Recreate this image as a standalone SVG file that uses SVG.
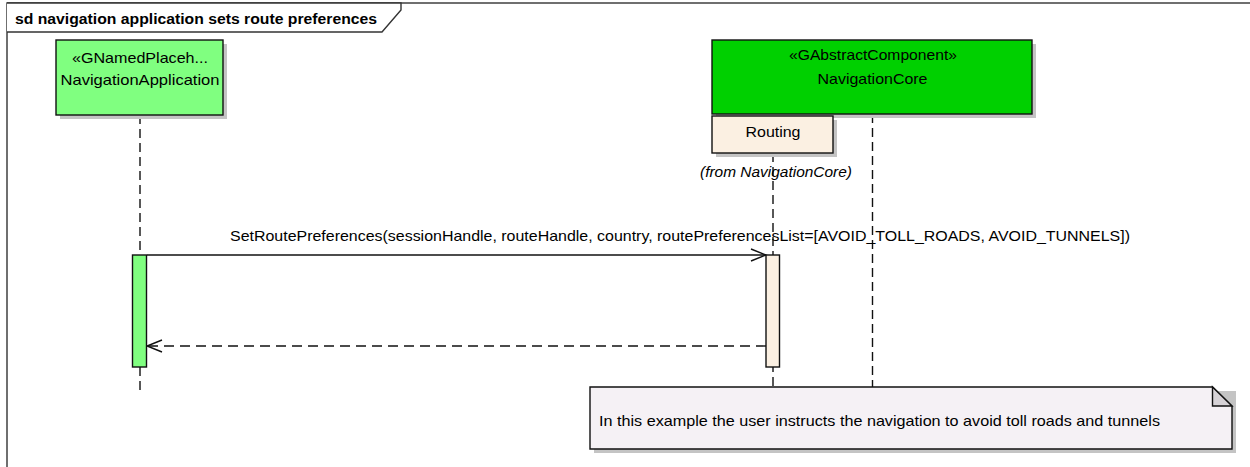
<svg xmlns="http://www.w3.org/2000/svg" width="1250" height="467" viewBox="0 0 1250 467">
<style>
text{font-family:"Liberation Sans",Arial,sans-serif;fill:#000}
.lbl{font-size:14.5px;text-anchor:middle}
.box{stroke:#111;stroke-width:1.4}
.shadow{fill:#c4c4c4}
.life{stroke:#111;stroke-width:1.4;stroke-dasharray:9 5;fill:none}
.msg{stroke:#111;stroke-width:1.4;fill:none}
</style>
<defs>
<marker id="open" markerWidth="18" markerHeight="16" refX="16" refY="8" orient="auto" markerUnits="userSpaceOnUse">
<path d="M1,2 L16,8 L1,14" fill="none" stroke="#111" stroke-width="1.4"/>
</marker>
</defs>
<rect width="1250" height="467" fill="#fff"/>
<g id="frame">
<rect x="7" y="3" width="1250" height="470" fill="none" stroke="#333" stroke-width="1.4"/>
<path d="M7,3 L401,3 L401,10 L382,32 L7,32" fill="#fff" stroke="#333" stroke-width="1.4"/>
<text x="15" y="24" font-size="14.5" font-weight="bold" textLength="362" lengthAdjust="spacingAndGlyphs">sd navigation application sets route preferences</text>
</g>
<g id="connectors">
<line class="life" x1="140" y1="115" x2="140" y2="392"/>
<line class="life" x1="773" y1="153" x2="773" y2="387"/>
<line class="life" x1="872.5" y1="114" x2="872.5" y2="387"/>
<line class="msg" x1="147" y1="255" x2="766" y2="255" marker-end="url(#open)"/>
<text x="230" y="241" font-size="14.5" textLength="900" lengthAdjust="spacingAndGlyphs">SetRoutePreferences(sessionHandle, routeHandle, country, routePreferencesList=[AVOID_TOLL_ROADS, AVOID_TUNNELS])</text>
<line class="msg" x1="766" y1="346" x2="147" y2="346" stroke-dasharray="10 6" marker-end="url(#open)"/>
</g>
<g id="NavigationApplication">
<rect class="shadow" x="60" y="44" width="167" height="75"/>
<rect class="box" x="56" y="40" width="167" height="75" fill="#80ff80"/>
<text class="lbl" x="140" y="63" textLength="136" lengthAdjust="spacingAndGlyphs">«GNamedPlaceh...</text>
<text class="lbl" x="140" y="85" textLength="159" lengthAdjust="spacingAndGlyphs">NavigationApplication</text>
</g>
<g id="NavigationCore">
<rect class="shadow" x="716" y="44" width="320" height="74"/>
<rect class="box" x="712" y="40" width="320" height="74" fill="#00d000"/>
<text class="lbl" x="873" y="60" textLength="168" lengthAdjust="spacingAndGlyphs">«GAbstractComponent»</text>
<text class="lbl" x="872.5" y="84" textLength="110" lengthAdjust="spacingAndGlyphs">NavigationCore</text>
</g>
<g id="Routing">
<rect class="shadow" x="716" y="120" width="121" height="37"/>
<rect class="box" x="712" y="116" width="121" height="37" fill="#fbf0e2"/>
<text class="lbl" x="773" y="137" textLength="55" lengthAdjust="spacingAndGlyphs">Routing</text>
<text class="lbl" x="776" y="177" font-style="italic" textLength="152" lengthAdjust="spacingAndGlyphs">(from NavigationCore)</text>
</g>
<g id="activation-app">
<rect class="box" x="132.5" y="255" width="14" height="112" fill="#80ff80"/>
</g>
<g id="activation-routing">
<rect class="box" x="766" y="255" width="13.5" height="112" fill="#fbf0e2"/>
</g>
<g id="note">
<path class="shadow" d="M594,391 L1236,391 L1236,453 L594,453 Z"/>
<path class="box" d="M590,387 L1212.5,387 L1232,406 L1232,449 L590,449 Z" fill="#f5f1f5"/>
<path class="box" d="M1212.5,387 L1212.5,406 L1232,406 Z" fill="#d6d2d6"/>
<text x="599" y="426" font-size="14.5" textLength="561" lengthAdjust="spacingAndGlyphs">In this example the user instructs the navigation to avoid toll roads and tunnels</text>
</g>
</svg>
